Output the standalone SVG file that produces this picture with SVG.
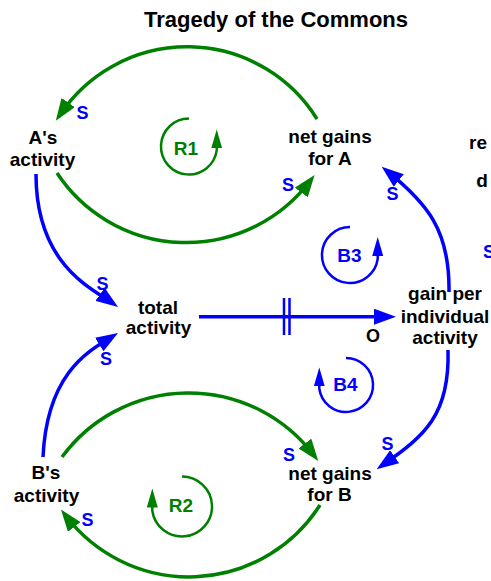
<svg xmlns="http://www.w3.org/2000/svg" width="491" height="581" viewBox="0 0 491 581">
  <style>
    text { font-family: "Liberation Sans", Arial, sans-serif; font-weight: bold; }
    .title { font-size: 22px; fill: #000; }
    .lbl { font-size: 19px; fill: #000; text-anchor: middle; }
    .pol { font-size: 18px; fill: #0000FF; text-anchor: middle; }
    .opp { font-size: 18px; fill: #000; text-anchor: middle; }
    .loopR { font-size: 19px; fill: #008000; text-anchor: middle; }
    .loopB { font-size: 19px; fill: #0000FF; text-anchor: middle; }
    .lnkG { fill: none; stroke: #008000; stroke-width: 3.5; marker-end: url(#headG); }
    .lnkB { fill: none; stroke: #0000FF; stroke-width: 3.5; marker-end: url(#headB); }
    .bar { fill: none; stroke: #0000FF; stroke-width: 2.5; }
    .loopG { fill: none; stroke: #008000; stroke-width: 2.5; marker-end: url(#loopHeadG); }
    .loopBl { fill: none; stroke: #0000FF; stroke-width: 2.5; marker-end: url(#loopHeadB); }
  </style>
  <defs>
    <marker id="headG" markerUnits="userSpaceOnUse" viewBox="0 0 22 16" refX="14" refY="8" markerWidth="22" markerHeight="16" orient="auto">
      <path d="M0,0 L22,8 L0,16 z" fill="#008000"/>
    </marker>
    <marker id="headB" markerUnits="userSpaceOnUse" viewBox="0 0 22 16" refX="14" refY="8" markerWidth="22" markerHeight="16" orient="auto">
      <path d="M0,0 L22,8 L0,16 z" fill="#0000FF"/>
    </marker>
    <marker id="loopHeadG" markerUnits="userSpaceOnUse" viewBox="0 0 19 11" refX="2" refY="5.5" markerWidth="19" markerHeight="11" orient="auto">
      <path d="M0,0 L19,5.5 L0,11 z" fill="#008000"/>
    </marker>
    <marker id="loopHeadB" markerUnits="userSpaceOnUse" viewBox="0 0 19 11" refX="2" refY="5.5" markerWidth="19" markerHeight="11" orient="auto">
      <path d="M0,0 L19,5.5 L0,11 z" fill="#0000FF"/>
    </marker>
  </defs>

  <rect width="491" height="581" fill="#FFFFFF"/>

  <text class="title" x="276" y="26.5" text-anchor="middle">Tragedy of the Commons</text>

  <!-- causal links -->
  <g id="connectors">
    <path class="lnkG" d="M317,119 A153,153 0 0 0 60.3,114.2"/>
    <path class="lnkG" d="M57,173 A155,155 0 0 0 309.8,181.3"/>
    <path class="lnkG" d="M62,457 A157,157 0 0 1 313.4,454.7"/>
    <path class="lnkG" d="M320,505 A155,155 0 0 1 65.8,515.8"/>

    <path class="lnkB" d="M36,174 C36,264 91,288 111.5,302.4"/>
    <path class="lnkB" d="M43,457 C47,372 90,350.2 111.2,337.2"/>
    <path class="lnkB" d="M199,316.7 H388"/>
    <path class="bar" d="M284,298 V335 M289.5,298 V335"/>
    <path class="lnkB" d="M449,292 C450,230 426.7,203.2 387.9,171.7"/>
    <path class="lnkB" d="M448,350 C450,415 424.2,436.2 383.2,464.7"/>

    <!-- link polarities -->
    <text class="pol" x="82.5" y="119">S</text>
    <text class="pol" x="288" y="191">S</text>
    <text class="pol" x="392.5" y="200">S</text>
    <text class="pol" x="102.5" y="290">S</text>
    <text class="pol" x="106" y="365">S</text>
    <text class="opp" x="373" y="341.5">O</text>
    <text class="pol" x="289" y="460.5">S</text>
    <text class="pol" x="387.5" y="450">S</text>
    <text class="pol" x="87.5" y="525.5">S</text>
    <text class="pol" x="489" y="258" text-anchor="start">S</text>
  </g>

  <!-- loop markers -->
  <g id="loop-R1">
    <path class="loopG" d="M189,118.5 A28,28 0 1 0 216.7,150.4 L216.7,146.5"/>
    <text class="loopR" x="186" y="155">R1</text>
  </g>
  <g id="loop-B3">
    <path class="loopBl" d="M350,227 A28,28 0 1 0 377.7,258.9 L377.7,254"/>
    <text class="loopB" x="349.5" y="261.5">B3</text>
  </g>
  <g id="loop-B4">
    <path class="loopBl" d="M346,358 A27,27 0 1 1 319.3,388.8 L319.3,384.5"/>
    <text class="loopB" x="345.5" y="391">B4</text>
  </g>
  <g id="loop-R2">
    <path class="loopG" d="M182,476.5 A30,30 0 1 1 152.3,510.7 L152.3,505.5"/>
    <text class="loopR" x="181" y="512">R2</text>
  </g>

  <!-- variables -->
  <g id="a-activity">
    <text class="lbl" x="43" y="143.5">A's</text>
    <text class="lbl" x="42.5" y="165.5">activity</text>
  </g>
  <g id="net-gains-a">
    <text class="lbl" x="330" y="143">net gains</text>
    <text class="lbl" x="330" y="165">for A</text>
  </g>
  <g id="total-activity">
    <text class="lbl" x="158" y="313.5">total</text>
    <text class="lbl" x="158.5" y="334">activity</text>
  </g>
  <g id="gain-per-activity">
    <text class="lbl" x="445" y="300">gain per</text>
    <text class="lbl" x="445" y="322.5">individual</text>
    <text class="lbl" x="445" y="343.5">activity</text>
  </g>
  <g id="b-activity">
    <text class="lbl" x="46" y="479">B's</text>
    <text class="lbl" x="46.5" y="501.5">activity</text>
  </g>
  <g id="net-gains-b">
    <text class="lbl" x="330" y="480">net gains</text>
    <text class="lbl" x="329.5" y="500.5">for B</text>
  </g>
  <g id="edge-labels">
    <text class="lbl" x="478" y="148.5" text-anchor="start">re</text>
    <text class="lbl" x="482" y="187" text-anchor="start">d</text>
  </g>
</svg>
